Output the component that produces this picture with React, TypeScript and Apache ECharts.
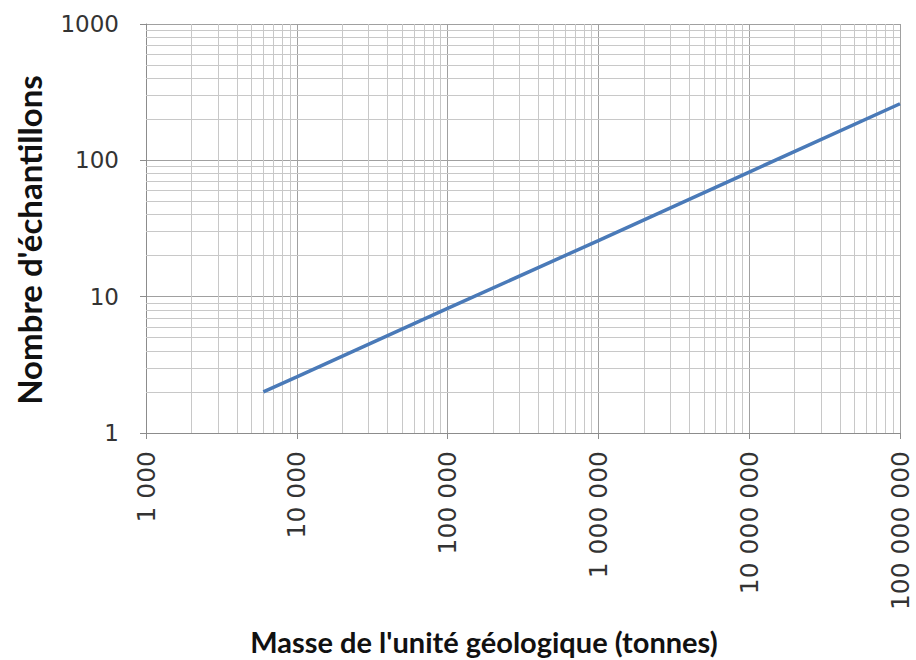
import React, { useEffect, useRef } from "react";
import * as echarts from "echarts";

// Data (mass in tonnes -> number of samples)
const massValues = [6000, 10000, 100000, 1000000, 10000000, 100000000];
const sampleValues = [2, 2.58, 8.2, 25.8, 82, 260];

// Axis ranges and gridline positions
const xRange = [1000, 100000000];
const yRange = [1, 1000];
const xDecades = [1000, 10000, 100000, 1000000, 10000000];
const yDecades = [1, 10, 100];
const minorMultipliers = [2, 3, 4, 5, 6, 7, 8, 9];

const xTitle = "Masse de l'unité géologique (tonnes)";
const yTitle = "Nombre d'échantillons";

function formatThousands(v: number): string {
  const n = Math.round(v);
  return String(n).replace(/\B(?=(\d{3})+(?!\d))/g, " ");
}

export default function App() {
  const ref = useRef<HTMLDivElement>(null);

  useEffect(() => {
    if (!ref.current) return;
    const chart = echarts.init(ref.current, undefined, { renderer: "svg" });

    const minorLineData: any[] = [];
    xDecades.forEach((d) =>
      minorMultipliers.forEach((m) => minorLineData.push({ xAxis: d * m }))
    );
    yDecades.forEach((d) =>
      minorMultipliers.forEach((m) => minorLineData.push({ yAxis: d * m }))
    );

    const tickFont = "DejaVu Sans";

    chart.setOption({
      animation: false,
      backgroundColor: "#ffffff",
      grid: {
        left: 146,
        right: 16,
        top: 24,
        bottom: 227,
        containLabel: false,
        outerBoundsMode: "none",
      },
      xAxis: {
        type: "log",
        logBase: 10,
        min: xRange[0],
        max: xRange[1],
        splitNumber: 5,
        axisLine: { show: true, lineStyle: { color: "#8c8c8c", width: 1 } },
        axisTick: { show: true, length: 6, lineStyle: { color: "#8c8c8c" } },
        axisLabel: {
          rotate: 90,
          margin: 18,
          color: "#333333",
          fontFamily: tickFont,
          fontSize: 25,
          formatter: (v: number) => formatThousands(v),
        },
        splitLine: { show: true, lineStyle: { color: "#a0a0a0", width: 1 } },
        minorTick: { show: false },
        minorSplitLine: { show: false },
      },
      yAxis: {
        type: "log",
        logBase: 10,
        min: yRange[0],
        max: yRange[1],
        splitNumber: 3,
        axisLine: { show: true, lineStyle: { color: "#8c8c8c", width: 1 } },
        axisTick: { show: true, length: 6, lineStyle: { color: "#8c8c8c" } },
        axisLabel: {
          margin: 27,
          color: "#333333",
          fontFamily: tickFont,
          fontSize: 23,
          formatter: (v: number) => String(Math.round(v)),
        },
        splitLine: { show: true, lineStyle: { color: "#a0a0a0", width: 1 } },
        minorTick: { show: false },
        minorSplitLine: { show: false },
      },
      series: [
        {
          type: "line",
          z: 1,
          silent: true,
          data: massValues.map((m, i) => [m, sampleValues[i]]),
          showSymbol: false,
          lineStyle: { opacity: 0 },
          markLine: {
            silent: true,
            symbol: "none",
            label: { show: false },
            lineStyle: { color: "#c8c8c8", width: 1, type: "solid" },
            emphasis: { disabled: true },
            data: minorLineData,
          },
        },
        {
          type: "line",
          z: 5,
          data: massValues.map((m, i) => [m, sampleValues[i]]),
          showSymbol: false,
          symbol: "none",
          lineStyle: { color: "#4a7ab8", width: 3.5 },
        },
      ],
      graphic: [
        {
          type: "text",
          x: 484,
          y: 641,
          style: {
            text: xTitle,
            fontFamily: "Lato",
            fontWeight: "bold",
            fontSize: 29,
            fill: "#111111",
            textAlign: "center",
            textVerticalAlign: "middle",
          },
        },
        {
          type: "text",
          x: 29,
          y: 240,
          rotation: Math.PI / 2,
          style: {
            text: yTitle,
            fontFamily: "Lato",
            fontWeight: "bold",
            fontSize: 33,
            fill: "#111111",
            textAlign: "center",
            textVerticalAlign: "middle",
          },
        },
      ],
    });

    return () => chart.dispose();
  }, []);

  return (
    <div
      ref={ref}
      style={{ position: "absolute", left: 0, top: 0, width: 916, height: 660 }}
    />
  );
}
